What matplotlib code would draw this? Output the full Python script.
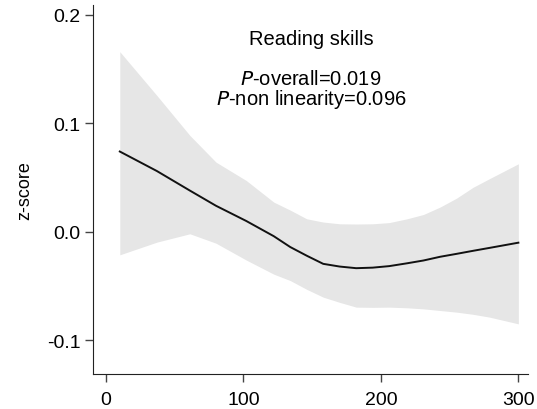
import matplotlib
matplotlib.use('Agg')
import matplotlib.pyplot as plt

plt.rcParams['font.family'] = ['Liberation Sans', 'DejaVu Sans']
plt.rcParams['axes.unicode_minus'] = False

# dose-response curve
dose = [10, 37, 61, 80, 102, 122, 134, 146, 158, 170, 182, 194, 206, 219, 231, 243, 255, 267, 279, 300]
zscore = [0.074, 0.056, 0.038, 0.024, 0.010, -0.004, -0.014, -0.022, -0.0295, -0.032, -0.0335, -0.033, -0.0316,
          -0.029, -0.0264, -0.023, -0.0203, -0.0175, -0.0148, -0.010]
upper = [0.166, 0.1256, 0.0888, 0.0642, 0.0473, 0.0274, 0.020, 0.012, 0.009, 0.0074, 0.0072, 0.0074, 0.0085,
         0.012, 0.016, 0.0228, 0.031, 0.041, 0.049, 0.0627]
lower = [-0.0212, -0.0095, -0.0018, -0.0105, -0.026, -0.039, -0.0449, -0.053, -0.0602, -0.065, -0.0694,
         -0.0696, -0.0694, -0.070, -0.071, -0.0725, -0.074, -0.076, -0.0786, -0.0848]

title = 'Reading skills'
p_overall = '0.019'
p_nonlin = '0.096'

fig = plt.figure(figsize=(5.37, 4.10), dpi=100)
ax = fig.add_axes([93/537, 35/410, 435/537, 369/410])

ax.fill_between(dose, lower, upper, color='#e6e6e6', lw=0)
ax.plot(dose, zscore, color='#111111', lw=1.4)

ax.set_xlim(-9.5, 307)
ax.set_ylim(-0.131, 0.209)
ax.set_xticks([0, 100, 200, 300])
ax.set_yticks([-0.1, 0.0, 0.1, 0.2])
ax.set_yticklabels(['-0.1', '0.0', '0.1', '0.2'])
ax.tick_params(labelsize=14, length=6, width=1, color='#444444')
ax.tick_params(axis='x', pad=6)
ax.tick_params(axis='y', pad=3)
for s in ['top', 'right']:
    ax.spines[s].set_visible(False)
for s in ['left', 'bottom']:
    ax.spines[s].set_color('#222222')
ax.set_ylabel('z-score', fontsize=13, labelpad=10)

ax.text(149, 0.178, title, ha='center', va='center', fontsize=14.5)
ax.text(149, 0.131, '$\\it{P}$-overall=' + p_overall + '\n$\\it{P}$-non linearity=' + p_nonlin,
        ha='center', va='center', multialignment='center', fontsize=14.5, linespacing=0.95)

plt.savefig('out.png', dpi=100)
